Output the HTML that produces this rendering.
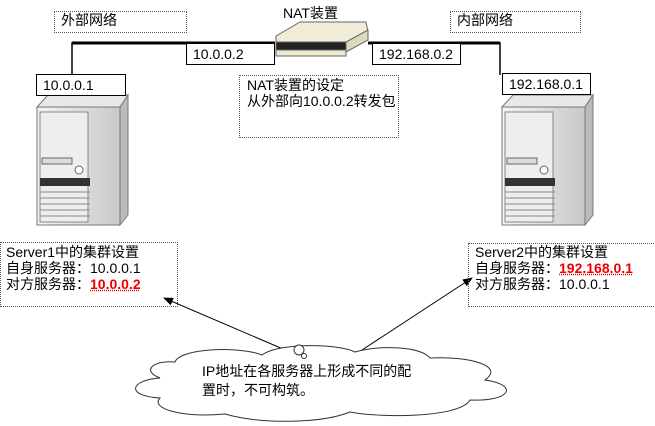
<!DOCTYPE html>
<html><head><meta charset="utf-8"><style>
body{margin:0;width:655px;height:426px;background:#fff;position:relative;overflow:hidden;font-family:"Liberation Sans","Noto Sans CJK SC",sans-serif;font-size:14px;color:#000}
.b{position:absolute;box-sizing:border-box;line-height:16px;padding-left:6px}
.d{border:1px dotted #555}
.s{border:1px solid #000;background:#fff}
.r{color:#e00;font-weight:bold;text-decoration:underline dotted #e00}
</style></head><body>
<svg width="655" height="426" style="position:absolute;left:0;top:0">
<defs><marker id="a" markerWidth="10" markerHeight="8" refX="9" refY="4" orient="auto"><path d="M0,0L10,4L0,8z"/></marker>
<linearGradient id="g" x1="0" x2="1"><stop offset="0" stop-color="#f4f4f4"/><stop offset="1" stop-color="#c8c8c8"/></linearGradient></defs>
<path d="M72,75V43H275M368,43H500V75" stroke="#000" stroke-width="1.5" fill="none"/>
<path d="M72,43H275M368,43H500" stroke="#000" stroke-width="3" fill="none"/>
<g stroke="#666" stroke-width="1">
<path d="M276,36L300,22H366L368,32L344,46H276Z" fill="#f0ecd8"/>
<rect x="276" y="42" width="70" height="8" fill="#222"/>
<path d="M346,42L368,30V40L346,52Z" fill="#ddd8c0"/>
<path d="M276,50H346V56H276Z" fill="#eee8d0"/>
</g>
<g id="sv">
<path d="M37,107L48,95H128L120,107Z" fill="#e8e8e8" stroke="#777"/>
<path d="M120,107L128,95V215L120,225Z" fill="#bbb" stroke="#777"/>
<rect x="37" y="107" width="83" height="118" fill="url(#g)" stroke="#777"/>
<rect x="40" y="112" width="48" height="110" fill="#eee" stroke="#888"/>
<rect x="42" y="158" width="30" height="6" fill="#ddd" stroke="#666"/>
<circle cx="79" cy="170" r="4" fill="#fff" stroke="#666"/>
<rect x="40" y="178" width="50" height="8" fill="#333"/>
<g stroke="#888"><line x1="40" y1="192" x2="90" y2="192"/><line x1="40" y1="198" x2="90" y2="198"/><line x1="40" y1="204" x2="90" y2="204"/><line x1="40" y1="210" x2="90" y2="210"/><line x1="40" y1="216" x2="90" y2="216"/></g>
</g>
<use href="#sv" x="465"/>
<line x1="290" y1="352" x2="164" y2="298" stroke="#000" marker-end="url(#a)"/>
<line x1="362" y1="350" x2="472" y2="278" stroke="#000" marker-end="url(#a)"/>
<path d="M175,362C180,348 240,346 262,355C280,342 340,344 355,352C380,345 420,346 430,358C470,356 505,366 485,380C520,385 510,402 470,400C460,418 380,418 350,412C320,424 260,424 225,414C180,418 150,408 160,398C125,396 130,380 160,378C140,370 155,360 175,362Z" fill="#fff" stroke="#333"/>
<circle cx="299" cy="350" r="5" fill="#fff" stroke="#333"/><circle cx="304" cy="356" r="2.5" fill="#fff" stroke="#333"/>
</svg>
<div style="position:absolute;left:283px;top:3px;font-size:14px">NAT装置</div>
<div class="b d" style="left:54px;top:11px;width:133px;height:22px">外部网络</div>
<div class="b d" style="left:450px;top:11px;width:131px;height:22px">内部网络</div>
<div class="b s" style="left:186px;top:43px;width:89px;height:22px;line-height:20px">10.0.0.2</div>
<div class="b s" style="left:372px;top:43px;width:89px;height:22px;line-height:20px">192.168.0.2</div>
<div class="b s" style="left:36px;top:74px;width:90px;height:22px;line-height:20px">10.0.0.1</div>
<div class="b s" style="left:502px;top:73px;width:89px;height:22px;line-height:20px">192.168.0.1</div>
<div class="b d" style="left:239px;top:75px;width:160px;height:63px;padding-left:7px;padding-top:1px;background:#fff">NAT装置的设定<br>从外部向10.0.0.2转发包</div>
<div class="b d" style="left:0;top:242px;width:178px;height:65px;padding-left:5px;padding-top:1px">Server1中的集群设置<br>自身服务器：10.0.0.1<br>对方服务器：<span class="r">10.0.0.2</span></div>
<div class="b d" style="left:468px;top:243px;width:188px;height:64px;padding-left:6px;padding-top:0">Server2中的集群设置<br>自身服务器：<span class="r">192.168.0.1</span><br>对方服务器：10.0.0.1</div>
<div style="position:absolute;left:202px;top:362px;line-height:19px;font-size:14px">IP地址在各服务器上形成不同的配<br>置时，不可构筑。</div>
</body></html>
